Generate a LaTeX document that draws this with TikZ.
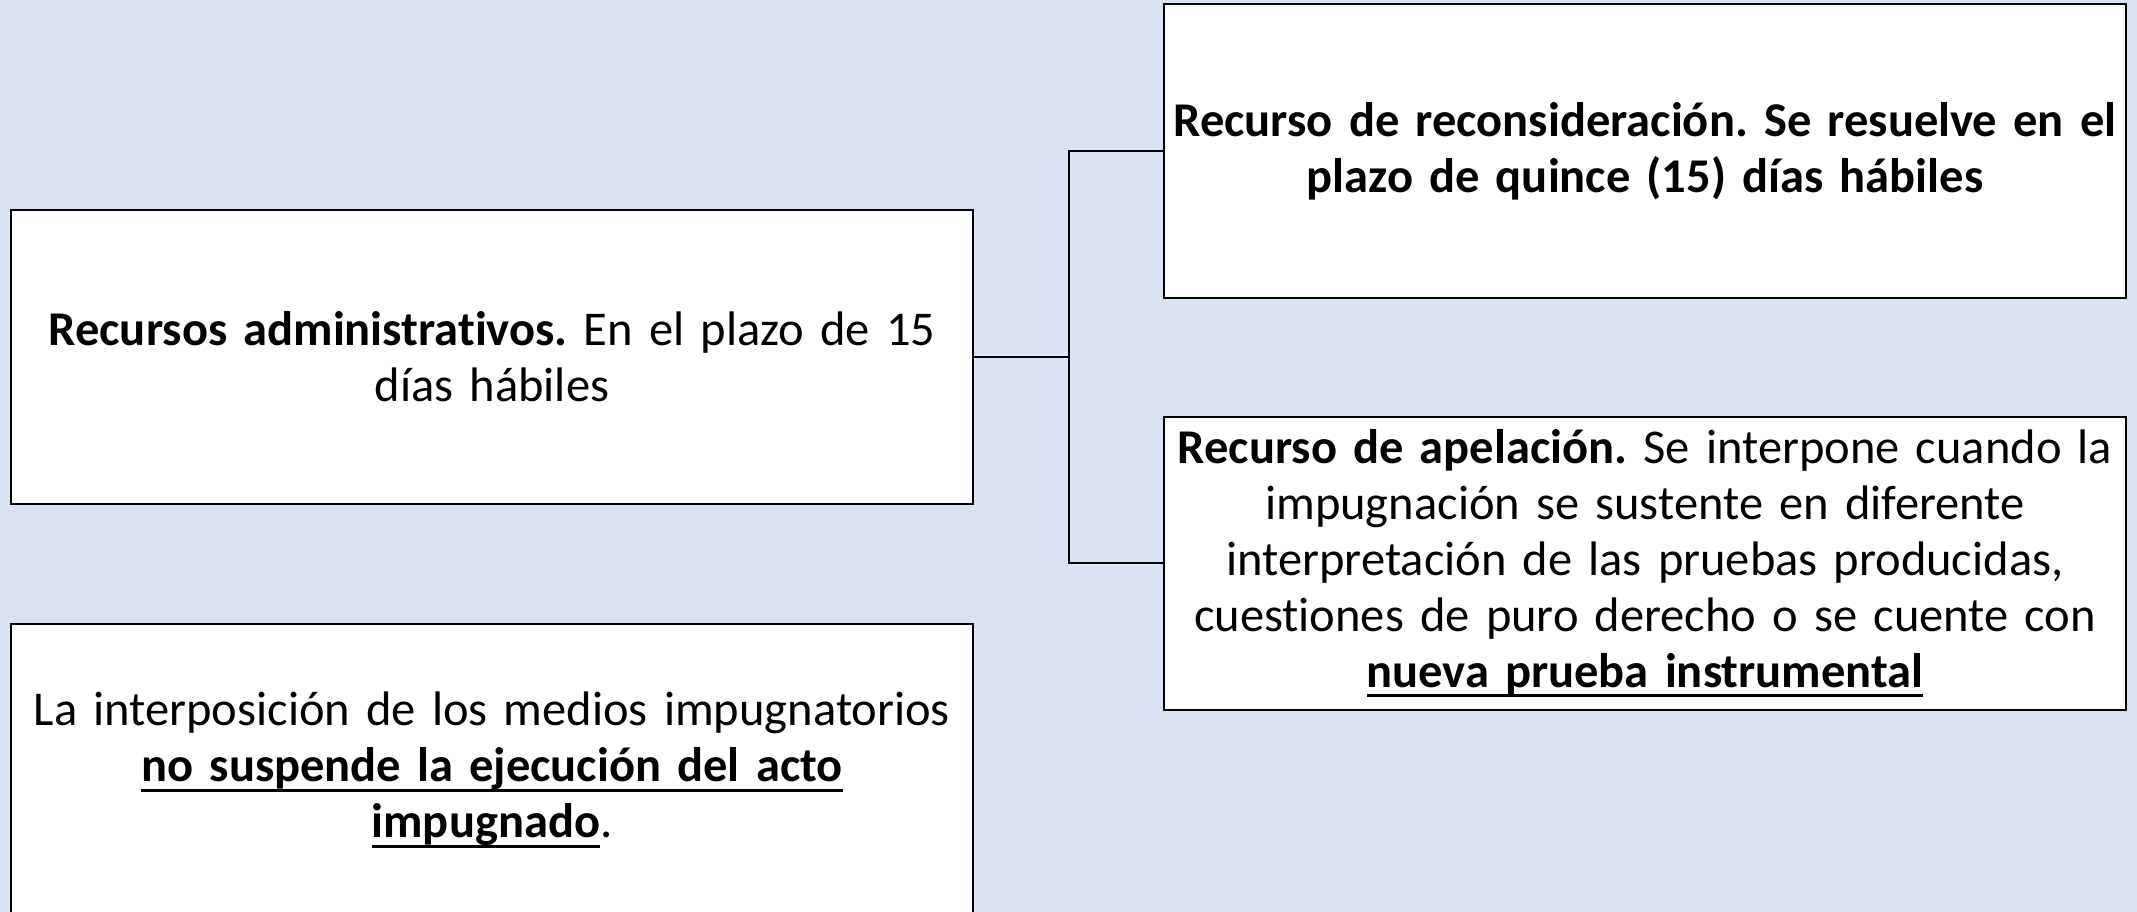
\documentclass[tikz,border=0pt]{standalone}
\usepackage{fontspec}
\setmainfont{Carlito}[Ligatures=NoCommon]
\usepackage{xcolor}
\usetikzlibrary{positioning}

\definecolor{bgblue}{HTML}{DAE3F3}
% bold text with a heavy underline
\newcommand{\ulbf}[1]{\leavevmode\setbox0=\hbox{\bfseries #1}%
  \rlap{\rule[-10pt]{\wd0}{3pt}}\box0}
\frenchspacing

\begin{document}
\begin{tikzpicture}[
  x=1pt,y=-1pt,
  recbox/.style={draw, fill=white, line width=2pt, minimum width=962pt,
    minimum height=293pt, text width=950pt, align=center, inner sep=6pt,
    font=\fontsize{48.5}{56}\selectfont},
  link/.style={draw, line width=2pt}
]
\fill[bgblue] (0,0) rectangle (2137,912);
\useasboundingbox (0,0) rectangle (2137,912);

\node[recbox] (admin) at (492,357) {\textbf{Recursos administrativos.} En el plazo de 15\\ días hábiles};
\node[recbox] (efecto) at (492,770) {La interposición de los medios impugnatorios\\
  \ulbf{no suspende la ejecución del acto}\\ \ulbf{impugnado}.};
\node[recbox] (recon) at (1645,151) {\textbf{Recurso de reconsideración. Se resuelve en el}\\ \textbf{plazo de quince (15) días hábiles}};
\node[recbox] (apel) at (1645,563) {\textbf{Recurso de apelación.} Se interpone cuando la\\
  impugnación se sustente en diferente\\ interpretación de las pruebas producidas,\\
  cuestiones de puro derecho o se cuente con\\ \ulbf{nueva prueba instrumental}};

\coordinate (hub) at (1069,357);
\draw[link] (admin.east) -- (hub);
\draw[link] (hub) |- (recon.west);
\draw[link] (hub) |- (apel.west);
\end{tikzpicture}
\end{document}
